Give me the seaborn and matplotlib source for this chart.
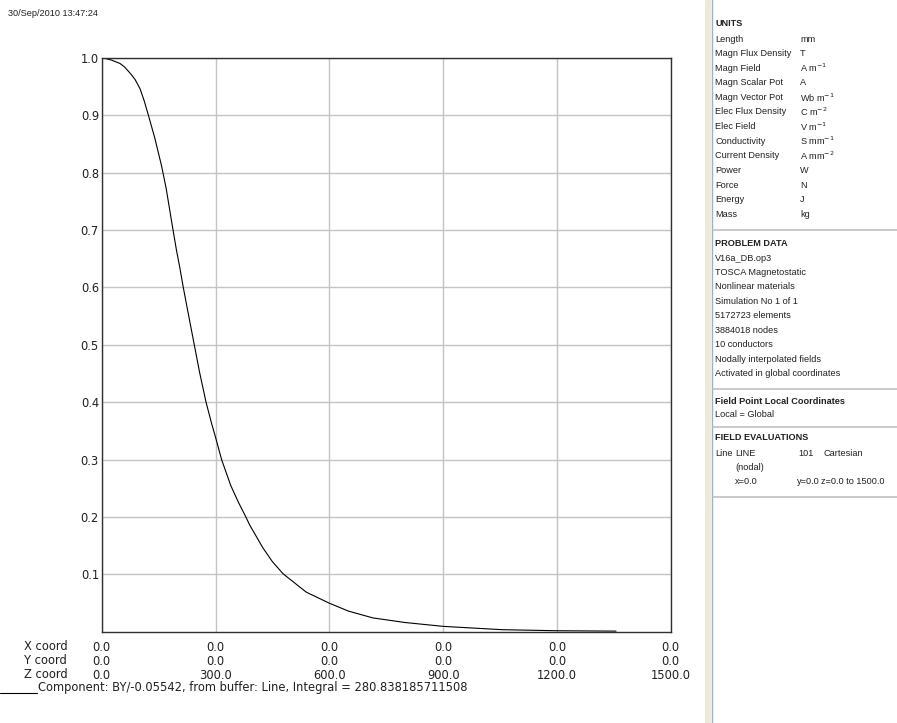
import numpy as np
import pandas as pd
import matplotlib
matplotlib.use('Agg')
import matplotlib.pyplot as plt
import seaborn as sns
from matplotlib.lines import Line2D
from matplotlib.patches import Rectangle

sns.set_style("white")
plt.rcParams.update({'font.family': 'DejaVu Sans', 'font.size': 8,
                     'mathtext.fontset': 'dejavusans'})

# %% dados
z_coord = [0, 13, 25, 48, 60, 75, 88, 101, 112, 123, 140, 158, 170, 188, 197,
           206, 215, 230, 244, 258, 275, 290, 300, 316, 340, 360, 380, 390, 425,
           450, 478, 539, 599, 650, 715, 800, 900, 1056, 1198, 1356]
by_norm = [1.0, 0.998, 0.996, 0.990, 0.984, 0.973, 0.962, 0.946, 0.925, 0.900,
           0.860, 0.811, 0.772, 0.700, 0.665, 0.634, 0.600, 0.548, 0.500, 0.452,
           0.400, 0.362, 0.339, 0.300, 0.255, 0.226, 0.200, 0.186, 0.146, 0.122,
           0.101, 0.069, 0.050, 0.036, 0.024, 0.016, 0.0093, 0.0035, 0.0017, 0.001]

x_ticks = [0, 300, 600, 900, 1200, 1500]
x_coord_lbl = ['0.0'] * 6
y_coord_lbl = ['0.0'] * 6
z_coord_lbl = ['0.0', '300.0', '600.0', '900.0', '1200.0', '1500.0']
y_ticks = [0.1, 0.2, 0.3, 0.4, 0.5, 0.6, 0.7, 0.8, 0.9, 1.0]
coord_nomes = ['X coord', 'Y coord', 'Z coord']

timestamp = '30/Sep/2010 13:47:24'
legenda = 'Component: BY/-0.05542, from buffer: Line, Integral = 280.838185711508'

units_nomes = ['Length', 'Magn Flux Density', 'Magn Field', 'Magn Scalar Pot',
               'Magn Vector Pot', 'Elec Flux Density', 'Elec Field', 'Conductivity',
               'Current Density', 'Power', 'Force', 'Energy', 'Mass']
units_vals = ['mm', 'T', r'A m$^{-1}$', 'A', r'Wb m$^{-1}$', r'C m$^{-2}$',
              r'V m$^{-1}$', r'S mm$^{-1}$', r'A mm$^{-2}$', 'W', 'N', 'J', 'kg']
problem_data = ['V16a_DB.op3', 'TOSCA Magnetostatic', 'Nonlinear materials',
                'Simulation No 1 of 1', '5172723 elements', '3884018 nodes',
                '10 conductors', 'Nodally interpolated fields',
                'Activated in global coordinates']

df = pd.DataFrame({'z': z_coord, 'by': by_norm})

W, H = 897, 723
fig = plt.figure(figsize=(W / 100, H / 100), dpi=100)
fig.patch.set_facecolor('white')

def fx(px):
    return px / W

def fy(py):
    return 1 - py / H

FS = 8.3  # fonte do gráfico
LS = 1.07

# %% área do gráfico
ax = fig.add_axes([fx(101.7), fy(631.7), fx(670.7) - fx(101.7), fy(57.7) - fy(631.7)])
sns.lineplot(data=df, x='z', y='by', ax=ax, color='black', linewidth=0.8)
ax.set_xlim(0, 1500)
ax.set_ylim(0, 1.0)
ax.set_xticks(x_ticks)
ax.set_xticklabels([f'{a}\n{b}\n{c}' for a, b, c in zip(x_coord_lbl, y_coord_lbl, z_coord_lbl)],
                   linespacing=LS)
ax.set_yticks(y_ticks)
ax.set_yticklabels([f'{v:.1f}' for v in y_ticks])
ax.tick_params(axis='both', length=0, labelsize=FS, colors='#202020')
ax.tick_params(axis='x', pad=7)
ax.tick_params(axis='y', pad=2)
ax.grid(True, color='#c4c4c4', linewidth=1.0)
for s in ax.spines.values():
    s.set_color('#303030')
    s.set_linewidth(1.0)
ax.set_xlabel('')
ax.set_ylabel('')

for i, nome in enumerate(coord_nomes):
    fig.text(fx(24), fy(646.7 + i * 13.8), nome, ha='left', va='center',
             fontsize=FS, color='#202020')
fig.add_artist(Line2D([fx(0), fx(37)], [fy(693), fy(693)], color='black', linewidth=0.8))
fig.text(fx(38), fy(688), legenda, ha='left', va='center', fontsize=FS, color='#202020')
fig.text(fx(8), fy(13), timestamp, ha='left', va='center', fontsize=6.6,
         family='Liberation Sans', color='#202020')

# %% painel lateral
fig.add_artist(Rectangle((fx(705), 0), fx(6), 1, transform=fig.transFigure,
                         facecolor='#ece9d8', edgecolor='none'))
fig.add_artist(Line2D([fx(711.5), fx(711.5)], [0, 1], color='#9db1c6', linewidth=1.0))

fp = dict(ha='left', va='center', fontsize=6.6, family='Liberation Sans', color='#202020')
fb = dict(fp, fontweight='bold')

def separador(py):
    fig.add_artist(Line2D([fx(713), fx(897)], [fy(py), fy(py)], color='#c0c0c0', linewidth=1.2))

fig.text(fx(715), fy(24), 'UNITS', **fb)
for i, (nome, val) in enumerate(zip(units_nomes, units_vals)):
    y = 39 + i * 14.6
    fig.text(fx(715), fy(y), nome, **fp)
    fig.text(fx(800), fy(y), val, **fp)
separador(230)

fig.text(fx(715), fy(243), 'PROBLEM DATA', **fb)
for i, linha in enumerate(problem_data):
    fig.text(fx(715), fy(258 + i * 14.45), linha, **fp)
separador(389)

fig.text(fx(715), fy(401), 'Field Point Local Coordinates', **fb)
fig.text(fx(715), fy(415), 'Local = Global', **fp)
separador(427)

fig.text(fx(715), fy(438), 'FIELD EVALUATIONS', **fb)
fig.text(fx(715), fy(453), 'Line', **fp)
fig.text(fx(735), fy(453), 'LINE', **fp)
fig.text(fx(798), fy(453), '101', **fp)
fig.text(fx(823), fy(453), 'Cartesian', **fp)
fig.text(fx(735), fy(467), '(nodal)', **fp)
fig.text(fx(735), fy(481), 'x=0.0', **fp)
fig.text(fx(797), fy(481), 'y=0.0', **fp)
fig.text(fx(821), fy(481), 'z=0.0 to 1500.0', **fp)
separador(497)

plt.savefig('out.png', dpi=100)
